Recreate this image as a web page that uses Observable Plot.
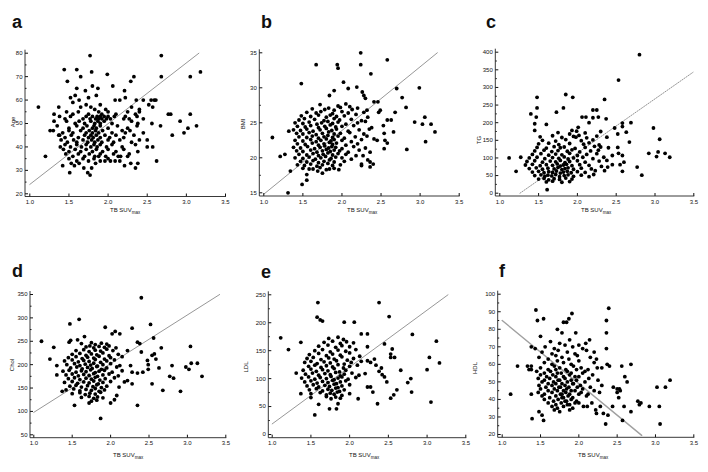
<!DOCTYPE html>
<html><head><meta charset="utf-8">
<script src="https://cdn.jsdelivr.net/npm/d3@7"></script>
<script src="https://cdn.jsdelivr.net/npm/@observablehq/plot@0.6"></script>
<style>
body{margin:0;background:#fff;font-family:"Liberation Sans",Arial,sans-serif;color:#111;}
#root{position:relative;width:708px;height:472px;overflow:hidden;background:#fff;}
.panel{position:absolute;}
.letter{position:absolute;font-weight:bold;font-size:18px;line-height:18px;}
.xlab{position:absolute;font-size:6px;line-height:6px;white-space:nowrap;color:#111;}
.xlab sub{font-size:4.5px;vertical-align:-2px;}
.ylab{position:absolute;font-size:6px;line-height:6px;white-space:nowrap;color:#111;transform:translate(-50%,-50%) rotate(-90deg);}
</style></head><body><div id="root"></div>
<script>
// ---------- data ----------
const xTicks = [1.0, 1.5, 2.0, 2.5, 3.0, 3.5];
const ageTicks = [20, 30, 40, 50, 60, 70, 80];
const bmiTicks = [15, 20, 25, 30, 35];
const tgTicks = [0, 50, 100, 150, 200, 250, 300, 350, 400];
const cholTicks = [50, 100, 150, 200, 250, 300, 350];
const ldlTicks = [0, 50, 100, 150, 200, 250];
const hdlTicks = [20, 30, 40, 50, 60, 70, 80, 90, 100];

const ageFit = [[1.0, 24], [3.16, 80]];
const bmiFit = [[1.0, 14.8], [3.22, 35]];
const tgFit = [[1.26, 0], [3.49, 343]];
const cholFit = [[1.0, 98], [3.42, 350]];
const ldlFit = [[1.0, 19], [3.27, 250]];
const hdlFit = [[1.0, 85], [2.82, 19.5]];

const agePts = [
[1.11,57],[1.20,36],[1.26,47],[1.31,54],[1.31,51],[1.37,57],[1.38,45],[1.39,40],[1.42,32],[1.44,73],[1.48,68],[1.51,29],[1.52,61],[1.60,73],[1.60,65],[1.65,70],[1.71,64],[1.75,61],[1.77,79],[1.79,72],[1.80,66],[1.87,65],[1.99,71],[2.06,66],[2.09,60],[2.21,64],[2.22,61],[2.29,68],[2.33,70],[2.36,60],[2.45,60],[2.52,58],[2.55,60],[2.59,60],[2.61,60],[2.57,57],[2.56,50],[2.68,79],[2.68,70],[2.67,49],[2.77,54],[2.80,54],[2.82,45],[2.92,51],[2.97,46],[3.02,48],[3.05,70],[3.05,54],[3.13,49],[3.18,72],[2.62,34],[2.50,40],[2.57,40],[2.50,43],[2.38,33],[2.35,31],[2.29,33],[2.21,32],[2.25,36],[2.15,34],[2.09,34],[2.03,34],[1.96,34],[1.90,34],[1.84,33],[1.77,28],[1.74,29],[1.79,31],[1.69,31],[1.63,33],[1.57,32],[1.53,33],
[1.55,59],[1.63,60],[1.65,57],[1.72,58],[1.78,57],[1.83,56],[1.90,58],[1.97,56],[2.15,60],[2.30,57],[2.40,56],[1.58,62],[1.85,62],
[1.47,55],[1.55,54],[1.62,55],[1.75,54],[1.88,55],[1.92,54],[2.00,55],[2.10,54],[2.25,55],[2.35,54],[2.40,55],
[1.38,53],[1.45,52],[1.52,53],[1.68,52],[1.72,53],[1.77,52],[1.80,53],[1.84,52],[1.86,53],[1.88,52],[1.90,53],[1.92,52],[1.95,53],[1.98,52],[2.00,53],[2.03,52],[2.08,53],[2.20,52],[2.22,53],[2.27,52],[2.37,53],[2.45,52],
[1.47,51],[1.58,50],[1.63,51],[1.70,50],[1.78,51],[1.83,50],[1.87,51],[1.90,50],[1.95,51],[2.05,50],[2.30,51],[2.38,50],
[1.35,49],[1.50,48],[1.60,49],[1.68,48],[1.73,49],[1.80,48],[1.82,49],[1.85,48],[1.90,49],[2.00,48],[2.12,49],[2.25,48],[2.37,49],
[1.30,47],[1.42,46],[1.50,47],[1.55,46],[1.65,47],[1.72,46],[1.76,47],[1.80,46],[1.84,47],[1.88,46],[1.93,47],[2.05,46],[2.18,47],[2.22,46],[2.28,47],[2.45,46],
[1.37,45],[1.45,44],[1.53,45],[1.62,44],[1.70,45],[1.75,44],[1.78,45],[1.81,44],[1.85,45],[1.90,44],[1.96,45],[2.02,44],[2.10,45],[2.20,44],[2.33,45],
[1.40,43],[1.48,42],[1.56,43],[1.60,42],[1.68,43],[1.74,42],[1.79,43],[1.83,42],[1.87,43],[1.92,42],[2.00,43],[2.07,42],[2.15,43],[2.30,42],[2.40,43],
[1.45,41],[1.52,40],[1.60,41],[1.66,40],[1.72,41],[1.78,40],[1.82,41],[1.86,40],[1.90,41],[1.98,40],[2.05,41],[2.18,40],[2.35,41],
[1.43,39],[1.50,38],[1.58,39],[1.65,38],[1.72,39],[1.80,38],[1.85,39],[1.93,38],[2.00,39],[2.10,38],[2.20,39],[2.38,38],
[1.46,37],[1.55,36],[1.62,37],[1.70,36],[1.76,37],[1.83,36],[1.90,37],[1.97,36],[2.07,37],[2.16,36],[2.27,37],
[1.50,35],[1.60,34],[1.68,35],[1.75,34],[1.82,35],[1.88,36],[2.00,35],[2.13,36]
];

const bmiPts = [
[1.11,22.9],[1.21,20.2],[1.27,20.5],[1.32,23.8],[1.31,15.0],[1.34,18.1],[1.48,30.6],[1.49,16.2],[1.55,16.8],[1.55,17.6],[1.67,33.3],[1.94,33.3],[1.95,32.8],[2.02,30.8],[2.08,29.9],[1.84,28.9],[1.90,29.6],[2.24,35.0],[2.24,33.3],[2.37,32.0],[2.58,34.0],[2.19,30.1],[2.26,29.4],[2.28,28.9],[2.30,28.5],[2.41,28.0],[2.46,28.0],[2.70,29.9],[2.77,28.6],[2.82,27.2],[2.99,30.0],[2.93,25.1],[3.06,25.8],[3.03,24.8],[3.14,24.8],[3.19,23.7],[3.07,22.3],[2.83,21.2],[2.66,23.7],[2.63,25.4],[2.58,25.4],[2.68,26.5],[2.53,24.6],[2.54,23.5],[2.58,22.1],[2.55,22.5],[2.54,21.3],[2.49,26.8],[2.47,26.5],[2.45,22.5],[2.41,22.7],[2.40,19.1],[2.36,18.7],[2.36,19.4],[2.36,20.8],[2.33,19.7],[2.25,18.9],[2.25,19.1],[2.27,20.3],[1.96,18.3],[1.84,18.4],[1.75,17.8],[1.69,18.1],[1.63,18.4],
[1.72,27.6],[1.95,27.4],[2.05,27.7],[2.10,27.3],
[1.62,27.0],[1.78,26.9],[1.83,27.1],[1.90,26.8],[1.98,27.2],[2.13,26.9],[2.20,27.1],[2.32,26.8],
[1.55,26.5],[1.67,26.4],[1.73,26.6],[1.88,26.3],[2.00,26.6],[2.08,26.4],[2.28,26.5],
[1.48,26.0],[1.60,25.9],[1.70,26.1],[1.80,25.8],[1.85,26.1],[1.93,25.9],[2.03,26.0],[2.18,26.2],[2.33,25.8],
[1.45,25.4],[1.52,25.6],[1.65,25.5],[1.77,25.3],[1.90,25.6],[1.97,25.4],[2.12,25.5],[2.25,25.3],
[1.40,25.0],[1.50,24.9],[1.58,25.1],[1.68,24.8],[1.74,25.0],[1.82,25.2],[1.88,24.9],[1.95,25.1],[2.05,24.8],[2.20,25.0],[2.30,25.2],
[1.43,24.5],[1.53,24.4],[1.60,24.6],[1.70,24.3],[1.78,24.5],[1.85,24.7],[1.92,24.4],[2.00,24.5],[2.15,24.6],[2.38,24.3],
[1.38,24.0],[1.47,23.9],[1.55,24.1],[1.63,23.8],[1.72,24.0],[1.80,24.2],[1.87,23.9],[1.93,24.1],[2.08,23.8],[2.22,24.0],[2.35,24.1],
[1.42,23.5],[1.50,23.4],[1.58,23.6],[1.67,23.3],[1.75,23.5],[1.83,23.7],[1.90,23.4],[1.98,23.5],[2.10,23.6],[2.28,23.4],
[1.45,23.0],[1.55,22.9],[1.62,23.1],[1.70,22.8],[1.77,23.0],[1.82,23.2],[1.88,22.9],[1.95,23.1],[2.03,22.8],[2.17,23.0],[2.32,23.1],
[1.40,22.5],[1.50,22.4],[1.60,22.6],[1.67,22.3],[1.73,22.5],[1.80,22.7],[1.86,22.4],[1.90,22.6],[2.00,22.5],[2.12,22.3],[2.25,22.6],
[1.43,22.0],[1.53,21.9],[1.62,22.1],[1.70,21.8],[1.77,22.0],[1.84,22.2],[1.88,21.9],[1.93,22.1],[2.05,21.8],[2.20,22.0],
[1.38,21.5],[1.47,21.4],[1.56,21.6],[1.65,21.3],[1.72,21.5],[1.78,21.7],[1.83,21.4],[1.87,21.6],[1.92,21.5],[2.00,21.3],[2.15,21.6],[2.30,21.4],
[1.42,21.0],[1.50,20.9],[1.60,21.1],[1.68,20.8],[1.75,21.0],[1.80,21.2],[1.85,20.9],[1.90,21.1],[1.97,21.0],[2.08,20.8],[2.22,21.1],
[1.45,20.5],[1.55,20.4],[1.63,20.6],[1.70,20.3],[1.76,20.5],[1.82,20.7],[1.88,20.4],[1.95,20.6],[2.05,20.5],[2.18,20.3],
[1.40,20.0],[1.50,19.9],[1.58,20.1],[1.66,19.8],[1.73,20.0],[1.79,20.2],[1.86,19.9],[1.92,20.1],[2.00,20.0],[2.12,19.8],
[1.47,19.5],[1.55,19.4],[1.63,19.6],[1.70,19.3],[1.77,19.5],[1.84,19.7],[1.90,19.4],[2.03,19.5],
[1.43,19.0],[1.52,18.9],[1.60,19.1],[1.68,18.8],[1.75,19.0],[1.82,19.2],[1.88,18.9],[1.98,19.0],
[1.50,18.5],[1.58,18.4],[1.72,18.6],[1.80,18.3],[1.90,18.5]
];

const tgPts = [
[2.80,393],[2.53,321],[2.35,266],[1.85,280],[1.94,272],[1.48,272],[1.48,242],[1.82,242],[1.73,230],[1.40,225],[1.47,216],[1.45,197],[1.60,195],[1.45,178],[2.06,216],[2.11,216],[2.20,236],[2.25,236],[2.20,214],[2.27,216],[2.37,211],[2.15,200],[2.01,187],[1.99,176],[1.93,178],[2.02,164],[1.98,159],[2.48,185],[2.58,189],[2.58,199],[2.69,200],[2.52,168],[2.63,173],[2.67,145],[2.52,130],[2.53,113],[2.45,107],[2.58,107],[2.60,88],[2.58,62],[2.55,81],[2.77,74],[2.83,51],[2.98,185],[3.06,153],[2.92,113],[3.04,117],[3.02,104],[3.13,113],[3.19,102],[1.12,100],[1.27,102],[1.21,62],[1.61,10],[2.38,93],[2.40,129],[2.38,159],[2.30,131],[2.30,175],[2.34,102],[2.39,74],[2.31,76],[2.35,64],[2.45,81],[2.23,64],[2.21,53],[2.15,47],
[1.75,172],[1.90,168],[2.10,171],
[1.52,160],[1.68,163],[1.80,158],[1.95,161],[2.12,157],[2.25,162],
[1.55,150],[1.72,148],[1.85,152],[2.05,149],[2.20,151],
[1.50,140],[1.63,142],[1.76,138],[1.90,141],[2.08,139],[2.15,143],[2.28,137],
[1.48,130],[1.60,128],[1.70,132],[1.78,129],[1.83,131],[1.97,127],[2.10,130],[2.22,133],
[1.45,120],[1.57,122],[1.67,118],[1.75,121],[1.87,119],[1.93,123],[2.03,117],[2.17,120],[2.27,122],
[1.42,110],[1.53,112],[1.63,108],[1.72,111],[1.80,109],[1.90,113],[2.00,107],[2.12,110],[2.25,112],
[1.38,100],[1.48,102],[1.58,98],[1.68,101],[1.76,99],[1.83,103],[1.88,97],[1.95,100],[2.07,102],[2.20,98],
[1.35,90],[1.45,92],[1.55,88],[1.65,91],[1.72,89],[1.78,93],[1.84,87],[1.90,90],[2.00,92],[2.10,88],[2.28,91],
[1.33,80],[1.42,82],[1.52,78],[1.60,81],[1.68,79],[1.74,83],[1.78,77],[1.82,80],[1.86,82],[1.93,78],[2.03,81],[2.15,79],
[1.38,70],[1.47,72],[1.55,68],[1.62,71],[1.70,69],[1.75,73],[1.80,67],[1.84,70],[1.88,72],[1.95,68],[2.05,71],[2.18,69],
[1.42,60],[1.50,62],[1.57,58],[1.63,61],[1.68,59],[1.73,63],[1.78,57],[1.82,60],[1.87,62],[1.92,58],[2.00,61],[2.10,59],
[1.45,50],[1.53,52],[1.58,48],[1.62,51],[1.67,49],[1.72,53],[1.77,47],[1.83,50],[1.88,52],[1.95,48],[2.05,51],
[1.50,40],[1.57,42],[1.63,38],[1.70,41],[1.77,39],[1.85,43],[1.93,40],
[1.60,32],[1.68,34],[1.80,31],[1.90,33]
];

const cholPts = [
[1.10,250],[1.21,212],[1.26,237],[1.30,198],[1.30,178],[1.37,143],[1.47,287],[1.59,297],[1.46,248],[1.48,252],[1.57,253],[1.53,113],[1.66,260],[1.93,280],[2.06,271],[2.12,266],[2.02,266],[2.28,278],[2.40,343],[2.52,286],[2.56,257],[2.35,248],[2.38,245],[2.66,236],[2.40,227],[2.54,220],[2.57,223],[2.59,212],[2.48,209],[2.49,200],[2.63,193],[2.49,190],[2.35,182],[2.42,184],[2.54,159],[2.35,113],[2.68,145],[2.80,198],[2.77,175],[2.82,171],[2.91,143],[2.98,195],[3.02,190],[3.04,239],[3.05,203],[3.13,203],[3.19,175],[1.87,85],[2.00,118],[2.05,125],[2.11,152],[2.08,134],[1.72,118],[2.22,230],[2.26,198],[2.28,184],[2.22,166],[2.18,163],[2.28,159],
[1.62,245],[1.75,247],[1.80,243],[1.88,246],[1.95,244],
[1.68,238],[1.73,240],[1.78,236],[1.85,239],[1.92,237],[1.98,240],[2.07,236],
[1.55,230],[1.65,232],[1.72,228],[1.80,231],[1.87,229],[1.95,233],[2.03,230],
[1.50,222],[1.60,224],[1.68,220],[1.75,223],[1.82,221],[1.90,225],[1.98,219],[2.10,222],
[1.45,215],[1.55,217],[1.63,213],[1.70,216],[1.78,214],[1.85,218],[1.92,212],[2.00,215],[2.15,217],
[1.40,208],[1.50,210],[1.58,206],[1.65,209],[1.72,207],[1.80,211],[1.87,205],[1.95,208],[2.05,210],
[1.43,200],[1.53,202],[1.60,198],[1.67,201],[1.74,199],[1.78,203],[1.83,197],[1.90,200],[2.00,202],[2.12,198],
[1.48,193],[1.56,195],[1.63,191],[1.70,194],[1.76,192],[1.82,196],[1.88,190],[1.95,193],[2.08,195],
[1.38,186],[1.46,188],[1.55,184],[1.62,187],[1.68,185],[1.74,189],[1.80,183],[1.85,186],[1.92,188],[2.02,184],[2.15,187],
[1.42,178],[1.50,180],[1.58,176],[1.65,179],[1.72,177],[1.78,181],[1.83,175],[1.90,178],[1.98,180],[2.10,176],
[1.45,170],[1.53,172],[1.60,168],[1.68,171],[1.75,169],[1.80,173],[1.86,167],[1.93,170],[2.05,172],
[1.40,162],[1.50,164],[1.57,160],[1.65,163],[1.72,161],[1.78,165],[1.84,159],[1.90,162],[2.00,164],
[1.47,154],[1.55,156],[1.62,152],[1.70,155],[1.77,153],[1.82,157],[1.88,151],[1.95,154],
[1.42,146],[1.52,148],[1.60,144],[1.68,147],[1.75,145],[1.80,149],[1.85,143],[1.92,146],
[1.50,138],[1.60,140],[1.67,136],[1.73,139],[1.80,137],[1.87,141],
[1.62,130],[1.72,132],[1.78,128],[1.83,131],[1.90,129],
[1.75,122],[1.82,124]
];

const ldlPts = [
[1.11,173],[1.21,152],[1.37,165],[1.37,73],[1.31,110],[1.59,236],[1.58,210],[1.62,205],[1.65,203],[1.55,35],[1.60,54],[1.74,46],[1.83,46],[1.85,55],[2.38,236],[2.51,211],[1.93,201],[2.06,201],[2.15,180],[2.23,180],[2.81,179],[2.23,157],[2.45,162],[2.55,153],[2.53,144],[2.58,138],[2.53,138],[3.12,167],[3.03,138],[3.16,128],[3.00,116],[2.66,115],[2.79,100],[2.75,93],[2.80,76],[2.61,80],[2.57,71],[2.53,65],[2.48,94],[2.42,107],[2.45,103],[2.38,113],[2.41,119],[2.34,124],[2.32,135],[2.23,132],[2.27,129],[2.20,109],[2.23,85],[2.27,85],[2.30,76],[2.36,55],[2.11,64],[3.05,58],
[1.73,172],[1.85,174],[1.92,170],
[1.67,165],[1.78,167],[1.88,163],[1.96,166],[2.05,164],
[1.60,158],[1.72,160],[1.82,156],[1.90,159],[2.00,157],
[1.55,150],[1.65,152],[1.75,148],[1.85,151],[1.95,149],[2.08,152],
[1.48,143],[1.60,145],[1.70,141],[1.78,144],[1.88,142],[2.00,146],[2.13,140],
[1.45,136],[1.53,138],[1.63,134],[1.73,137],[1.80,135],[1.90,139],[1.97,133],[2.05,136],
[1.42,129],[1.50,131],[1.58,127],[1.67,130],[1.75,128],[1.83,132],[1.93,126],[2.02,129],[2.15,131],
[1.47,122],[1.55,124],[1.63,120],[1.70,123],[1.78,121],[1.85,125],[1.92,119],[2.00,122],[2.10,124],
[1.40,115],[1.50,117],[1.57,113],[1.65,116],[1.72,114],[1.80,118],[1.87,112],[1.95,115],
[1.43,108],[1.52,110],[1.60,106],[1.68,109],[1.75,107],[1.82,111],[1.88,105],[1.93,108],[2.03,110],[2.12,106],
[1.38,101],[1.47,103],[1.55,99],[1.62,102],[1.70,100],[1.76,104],[1.80,98],[1.85,101],[1.90,103],[1.98,99],[2.08,102],
[1.42,94],[1.50,96],[1.58,92],[1.65,95],[1.72,93],[1.78,97],[1.83,91],[1.88,94],[1.95,96],
[1.45,87],[1.53,89],[1.60,85],[1.68,88],[1.74,86],[1.80,90],[1.85,84],[1.90,87],[2.00,89],
[1.48,80],[1.57,82],[1.65,78],[1.72,81],[1.77,79],[1.82,83],[1.87,77],[1.93,80],
[1.50,73],[1.62,75],[1.70,71],[1.75,74],[1.80,72],[1.84,76],[1.90,70],[2.00,73],
[1.50,66],[1.70,68],[1.76,64],[1.82,67],[1.88,65]
];

const hdlPts = [
[1.11,43],[1.20,59],[1.33,59],[1.35,57],[1.38,59],[1.38,57],[1.38,70],[1.38,43],[1.39,29],[1.44,91],[1.46,85],[1.54,86],[1.50,76],[1.43,69],[1.52,31],[1.54,28],[1.48,33],[1.72,80],[1.78,78],[1.80,84],[1.84,84],[1.87,86],[1.91,89],[1.96,78],[2.00,71],[2.09,72],[2.14,74],[2.39,92],[2.36,85],[2.36,78],[2.36,69],[2.37,60],[2.40,59],[2.35,26],[2.24,58],[2.23,63],[2.20,67],[2.56,59],[2.68,60],[2.60,53],[2.63,50],[2.45,47],[2.50,46],[2.53,46],[2.54,45],[2.50,44],[2.52,41],[2.44,36],[2.59,36],[2.57,28],[2.68,33],[2.77,39],[2.81,38],[2.79,37],[2.92,36],[3.02,47],[3.05,36],[3.06,26],[3.13,47],[3.19,51],[2.38,31],[2.32,32],[2.28,36],[2.23,32],[2.22,34],[2.17,38],[2.11,36],[2.06,36],[2.00,38],
[1.63,73],[1.75,72],[1.88,74],
[1.56,70],[1.68,69],[1.82,71],[1.92,70],[2.05,69],
[1.52,67],[1.65,66],[1.73,68],[1.85,67],[1.95,66],[2.10,68],
[1.48,64],[1.60,63],[1.70,65],[1.78,64],[1.87,63],[1.98,65],[2.15,64],
[1.55,61],[1.65,60],[1.72,62],[1.80,61],[1.90,60],[2.00,62],[2.20,61],
[1.50,58],[1.60,57],[1.68,59],[1.75,58],[1.83,57],[1.93,59],[2.03,58],[2.12,57],[2.30,58],
[1.45,56],[1.55,55],[1.63,56],[1.70,57],[1.77,55],[1.85,56],[1.90,55],[1.97,57],[2.08,56],
[1.50,54],[1.58,53],[1.66,54],[1.72,55],[1.80,53],[1.88,54],[1.95,53],[2.05,55],[2.18,54],
[1.47,52],[1.55,51],[1.62,52],[1.70,53],[1.75,51],[1.82,52],[1.90,51],[2.00,53],[2.13,52],[2.25,51],
[1.52,50],[1.60,49],[1.67,50],[1.73,51],[1.78,49],[1.85,50],[1.92,49],[1.97,51],[2.08,50],
[1.48,48],[1.57,47],[1.65,48],[1.70,49],[1.76,47],[1.82,48],[1.87,47],[1.93,49],[2.02,48],[2.15,47],[2.30,48],
[1.50,46],[1.60,45],[1.68,46],[1.74,47],[1.80,45],[1.84,46],[1.90,45],[1.98,47],[2.05,46],[2.20,45],
[1.47,44],[1.55,43],[1.65,44],[1.72,45],[1.78,43],[1.83,44],[1.88,43],[1.95,45],[2.03,44],[2.12,43],[2.27,44],
[1.52,42],[1.62,41],[1.70,42],[1.76,43],[1.80,41],[1.86,42],[1.92,41],[2.00,43],[2.10,42],
[1.55,40],[1.67,39],[1.73,40],[1.78,41],[1.84,39],[1.90,40],[1.97,39],
[1.60,38],[1.70,37],[1.77,38],[1.82,39],[1.88,37],[1.95,38],
[1.65,36],[1.72,35],[1.80,36],[1.85,37],[1.92,35],
[1.68,34],[1.75,33],[1.88,34]
];

// ---------- layout ----------
const panels = [
  {letter:"a", lx:12, lb:28, ylab:"Age", ylx:12.5, yly:122, xlx:110, xlb:212, ticks:ageTicks, pts:agePts, fit:ageFit, line:"solid",
   axisX:25, axisB:196.5, px1:29.3, px35:225, yTopPx:52.7, yBotPx:193.3},
  {letter:"b", lx:261, lb:28, ylab:"BMI", ylx:242.5, yly:124, xlx:347, xlb:212, ticks:bmiTicks, pts:bmiPts, fit:bmiFit, line:"solid",
   axisX:259.3, axisB:196, px1:263.3, px35:458.7, yTopPx:52.3, yBotPx:192.3},
  {letter:"c", lx:486, lb:28, ylab:"TG", ylx:479, yly:140, xlx:581, xlb:212, ticks:tgTicks, pts:tgPts, fit:tgFit, line:"dot",
   axisX:495.3, axisB:196, px1:499.3, px35:693.3, yTopPx:51.7, yBotPx:192.7},
  {letter:"d", lx:12, lb:277, ylab:"Chol", ylx:11.5, yly:365, xlx:113, xlb:457, ticks:cholTicks, pts:cholPts, fit:cholFit, line:"solid",
   axisX:30, axisB:437.7, px1:33.3, px35:225.3, yTopPx:294, yBotPx:434.3},
  {letter:"e", lx:261, lb:278, ylab:"LDL", ylx:246, yly:367, xlx:349, xlb:457, ticks:ldlTicks, pts:ldlPts, fit:ldlFit, line:"solid",
   axisX:268.3, axisB:437.7, px1:271.7, px35:465.3, yTopPx:294.3, yBotPx:434},
  {letter:"f", lx:499, lb:277, ylab:"HDL", ylx:475, yly:368, xlx:578, xlb:457, ticks:hdlTicks, pts:hdlPts, fit:hdlFit, line:"thick",
   axisX:497.7, axisB:437.3, px1:501.7, px35:693.3, yTopPx:293.7, yBotPx:434}
];

const root = document.getElementById("root");
const fmt1 = d3.format(".1f");

function addText(cls, html, left, top) {
  const el = document.createElement("div");
  el.className = cls;
  el.innerHTML = html;
  el.style.left = left + "px";
  el.style.top = top + "px";
  root.appendChild(el);
  return el;
}

for (const p of panels) {
  const left = Math.floor(p.axisX - 22);
  const top = Math.floor(p.yTopPx - 8);
  const width = Math.ceil(p.px35 + 8 - left);
  const height = Math.ceil(p.axisB + 14 - top);
  const mL = p.axisX - left, mT = p.yTopPx - top;
  const mR = left + width - p.px35, mB = top + height - p.axisB;
  const yDom = [p.ticks[0], p.ticks[p.ticks.length - 1]];
  const minor = d3.pairs(p.ticks).map(([a, b]) => (a + b) / 2);
  const lineStyle = p.line === "dot" ? {stroke: "#666", strokeWidth: 0.7, strokeDasharray: "1.2,1.4"}
                  : p.line === "thick" ? {stroke: "#a0a0a0", strokeWidth: 1.4}
                  : {stroke: "#6a6a6a", strokeWidth: 0.7};
  const plot = Plot.plot({
    width, height, marginLeft: mL, marginTop: mT, marginRight: mR, marginBottom: mB,
    style: {fontFamily: "'Liberation Sans', Arial, sans-serif", fontSize: "6px", color: "#111", background: "transparent", overflow: "visible"},
    x: {domain: [1, 3.5], insetLeft: p.px1 - p.axisX, insetRight: 0},
    y: {domain: yDom, insetBottom: p.axisB - p.yBotPx, insetTop: 0},
    marks: [
      Plot.line(p.fit, {x: d => d[0], y: d => d[1], ...lineStyle}),
      Plot.dot(p.pts, {x: d => d[0], y: d => d[1], r: 1.9, fill: "#000"}),
      Plot.axisX(xTicks, {tickSize: 0, tickPadding: 3, tickFormat: fmt1, label: null}),
      Plot.axisX(xTicks, {tickSize: -3, tickFormat: () => "", label: null}),
      Plot.axisY(p.ticks, {tickSize: 0, tickPadding: 3, tickFormat: d3.format("d"), label: null}),
      Plot.axisY(p.ticks, {tickSize: -3, tickFormat: () => "", label: null}),
      Plot.axisY(minor, {tickSize: -1.5, tickFormat: () => "", label: null})
    ]
  });
  const s = d3.select(plot);
  s.append("line").attr("x1", mL).attr("x2", mL).attr("y1", mT - 3).attr("y2", height - mB)
    .attr("stroke", "#222").attr("stroke-width", 0.9);
  s.append("line").attr("x1", mL).attr("x2", width - mR + 1).attr("y1", height - mB).attr("y2", height - mB)
    .attr("stroke", "#222").attr("stroke-width", 0.9);
  const div = document.createElement("div");
  div.className = "panel";
  div.style.left = left + "px";
  div.style.top = top + "px";
  div.style.width = width + "px";
  div.style.height = height + "px";
  div.appendChild(plot);
  root.appendChild(div);

  addText("letter", p.letter, p.lx, p.lb - 15);
  addText("xlab", "TB SUV<sub>max</sub>", p.xlx, p.xlb - 5);
  addText("ylab", p.ylab, p.ylx, p.yly);
}
</script>
</body></html>
